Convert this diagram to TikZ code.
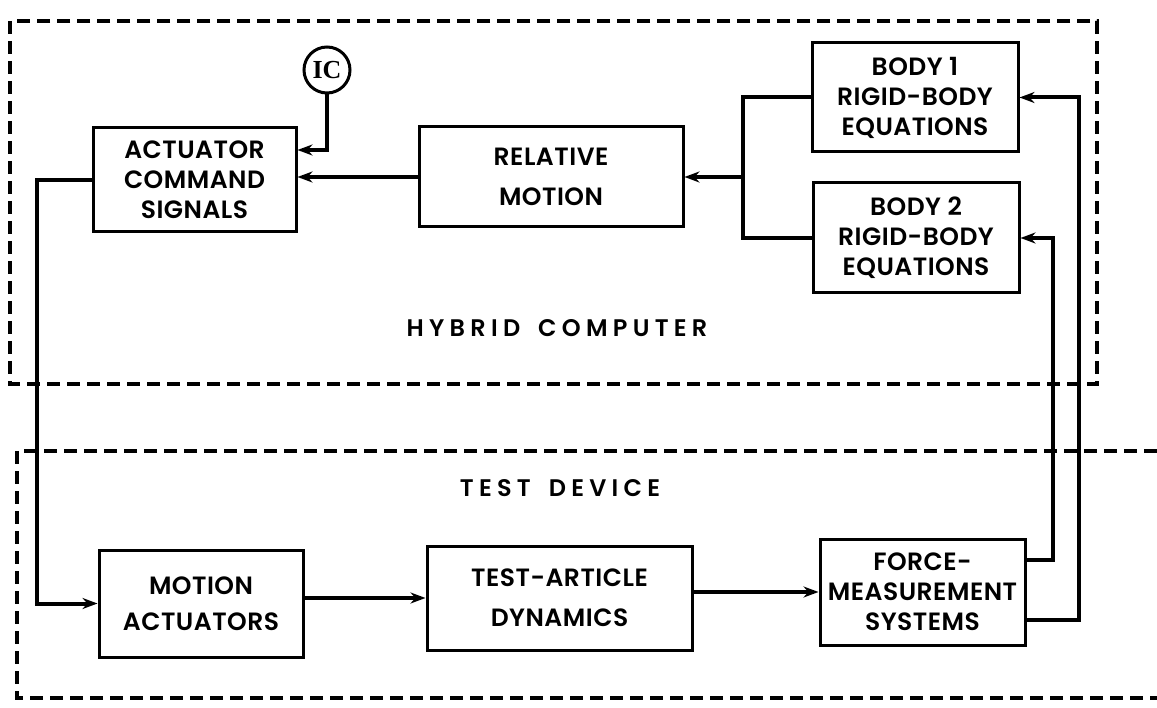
\documentclass[tikz,border=0pt]{standalone}
\usepackage{fontspec}
\setmainfont{Poppins}
\newfontfamily\lblfont[LetterSpace=2]{Poppins SemiBold}
\newfontfamily\grpfont[LetterSpace=22]{Poppins SemiBold}
\newfontfamily\icfont{Liberation Serif}
\usetikzlibrary{arrows.meta}
\begin{document}
\begin{tikzpicture}[x=1pt,y=-1pt,
  blk/.style={draw, line width=3pt, rectangle, align=center, inner sep=0pt,
    font=\lblfont\fontsize{25}{30}\selectfont},
  blk2/.style={blk, font=\lblfont\fontsize{25}{40}\selectfont},
  lbl/.style={align=center, inner sep=0pt, font=\grpfont\fontsize{24}{30}\selectfont},
  conn/.style={line width=4pt, -{Stealth[length=15pt,width=11pt]}},
  wire/.style={line width=4pt},
  grp/.style={line width=3.2pt, dash pattern=on 13pt off 7pt},
]
\useasboundingbox (0,0) rectangle (1157,708);

% groups
\draw[grp] (10,21) rectangle (1097,384);
\draw[grp] (1157,451) -- (17,451) -- (17,698) -- (1157,698);

% blocks
\node[blk, minimum width=203pt, minimum height=104pt] (acs) at (194.5,180) {ACTUATOR\\COMMAND\\SIGNALS};
\node[blk2, minimum width=264pt, minimum height=100pt] (rm) at (551,177) {RELATIVE\\MOTION};
\node[blk, minimum width=206pt, minimum height=109pt] (b1) at (915,97.5) {BODY 1\\RIGID-BODY\\EQUATIONS};
\node[blk, minimum width=206pt, minimum height=110pt] (b2) at (916,238) {BODY 2\\RIGID-BODY\\EQUATIONS};
\node[blk2, minimum width=204pt, minimum height=107pt, font=\lblfont\fontsize{25}{36}\selectfont] (ma) at (201,603.5) {MOTION\\ACTUATORS};
\node[blk2, minimum width=265pt, minimum height=104pt] (tad) at (559.5,598) {TEST-ARTICLE\\DYNAMICS};
\node[blk, minimum width=205pt, minimum height=106pt] (fms) at (922.5,592) {FORCE-\\MEASUREMENT\\SYSTEMS};
\node[draw, circle, line width=3pt, minimum size=46pt, inner sep=0pt,
  font=\icfont\bfseries\fontsize{26}{28}\selectfont] (ic) at (327,70) {IC};

% labels
\node[lbl] (hc) at (557,328) {HYBRID\hspace{7pt} COMPUTER};
\node[lbl] (td) at (560,488) {TEST\hspace{7pt} DEVICE};

% coordinates for routing
\coordinate (j) at (743,177);
\coordinate (r1) at (1053,0);
\coordinate (r2) at (1079,0);
\coordinate (l) at (37,0);

% connectors
\draw[conn] (ic.south) |- ([yshift=30pt]acs.east);
\draw[conn] (rm.west) -- (rm.west -| acs.east);
\draw[wire] (b1.west) -| (j) |- (b2.west);
\draw[conn] (j) -- (rm.east);
\draw[conn] ([yshift=32pt]fms.east) -| (r1 |- b2.east) -- (b2.east);
\draw[conn] ([yshift=-28pt]fms.east) -| (r2 |- b1.east) -- (b1.east);
\draw[conn] (acs.west) -| (l |- ma.west) -- (ma.west);
\draw[conn] (tad.west -| ma.east) -- (tad.west);
\draw[conn] (fms.west -| tad.east) -- (fms.west);
\end{tikzpicture}
\end{document}
